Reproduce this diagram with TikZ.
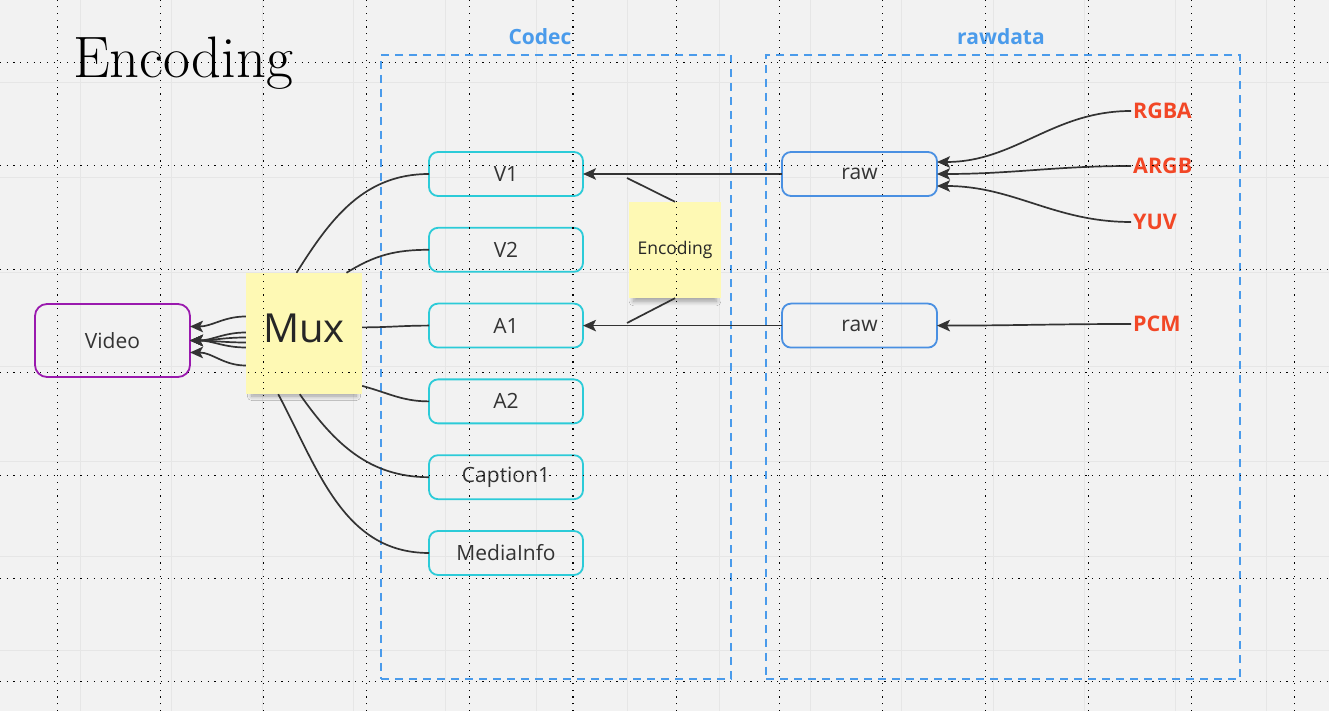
\documentclass[tikz,border=0pt]{standalone}
\usepackage{fontspec}
\newfontfamily\opensans{Open Sans}
\usepackage{tikz}
\usetikzlibrary{arrows.meta,positioning,shadows.blur}

\definecolor{boardgray}{HTML}{F2F2F2}
\definecolor{gridgray}{HTML}{E6E6E6}
\definecolor{frameblue}{HTML}{4A9BEB}
\definecolor{streamcyan}{HTML}{2CCBD8}
\definecolor{rawblue}{HTML}{4A90E2}
\definecolor{videopurple}{HTML}{9A1AAE}
\definecolor{stickyyellow}{HTML}{FEF9B4}
\definecolor{fmtred}{HTML}{F24726}
\definecolor{inkgray}{HTML}{333333}

\begin{document}
\begin{tikzpicture}[
    x=1pt, y=1pt,
    >={Stealth[length=13pt,width=11.5pt,inset=3pt]},
    font=\opensans,
    box/.style={
		rectangle,
		rounded corners=9pt,
		line width=1.8pt,
		outer sep=0pt,
		text=inkgray,
		font=\opensans\fontsize{21}{25}\selectfont
	},
    stream/.style={box, draw=streamcyan, minimum width=154pt, minimum height=44pt},
    rawnode/.style={box, draw=rawblue, minimum width=155pt, minimum height=44pt},
    videobox/.style={box, draw=videopurple, rounded corners=12pt, minimum width=155pt, minimum height=73pt},
    sticky/.style={
		rectangle,
		fill=stickyyellow,
		text=black!85,
		blur shadow={shadow xshift=0pt, shadow yshift=-9pt, shadow scale=0.9,
		             shadow blur steps=10, shadow blur radius=5pt, shadow opacity=35}
	},
    groupbox/.style={draw=frameblue, line width=1.8pt, dash pattern=on 8pt off 6pt, inner sep=0pt},
    grouptitle/.style={text=frameblue, font=\opensans\bfseries\fontsize{21}{25}\selectfont},
    fmt/.style={anchor=west, inner sep=2pt, text=fmtred, font=\opensans\bfseries\fontsize{21.5}{25}\selectfont},
    conn/.style={draw=inkgray, line width=1.7pt},
    faintline/.style={draw=gridgray, line width=1pt},
    dotline/.style={draw=black, line width=1.1pt, dash pattern=on 1.1pt off 5.6pt}
  ]
    % board
    \fill[boardgray] (0,0) rectangle (1329,711);
    \useasboundingbox (0,0) rectangle (1329,711);
    \foreach \k in {0,...,13} \draw[faintline] (80+91.3*\k,0) -- (80+91.3*\k,711);
    \foreach \k in {0,...,6} \draw[faintline] (0,60+94.7*\k) -- (1329,60+94.7*\k);

    \node[anchor=base west, inner sep=0pt, font=\rmfamily\fontsize{58.5}{62}\selectfont] (title) at (73,633) {Encoding};

    % the two groups
    \node[groupbox, minimum width=350pt, minimum height=624pt] (codecframe) at (556,344) {};
    \node[groupbox, minimum width=474pt, minimum height=624pt] (rawframe) at (1003,344) {};
    \node[grouptitle] (codectitle) at (540,674) {Codec};
    \node[grouptitle] (rawtitle) at (1001,674) {rawdata};

    % codec streams
    \node[stream] (v1) at (506,537) {V1};
    \node[stream, below=31.8pt of v1] (v2) {V2};
    \node[stream, below=31.8pt of v2] (a1) {A1};
    \node[stream, below=31.8pt of a1] (a2) {A2};
    \node[stream, below=31.8pt of a2] (cap1) {Caption1};
    \node[stream, below=31.8pt of cap1] (info) {MediaInfo};

    % raw data and formats
    \node[rawnode, right=199pt of v1] (raw1) {raw};
    \node[rawnode, right=199pt of a1] (raw2) {raw};
    \node[fmt] (rgba) at (1131,600) {RGBA};
    \node[fmt] (argb) at (1131,545) {ARGB};
    \node[fmt] (yuv) at (1131,489) {YUV};
    \node[fmt] (pcm) at (1131,387) {PCM};

    % mux, video, encoding note
    \node[videobox] (video) at (112.5,370.5) {Video};
    \node[sticky, minimum width=116pt, minimum height=121pt, text depth=10pt,
          font=\opensans\fontsize{40}{44}\selectfont] (mux) at (304,377.5) {Mux};
    \node[sticky, minimum width=92pt, minimum height=96pt,
          font=\opensans\fontsize{17.5}{21}\selectfont] (enc) at (675,461) {Encoding};
    \coordinate (encv) at (627,533);
    \coordinate (enca) at (627,388);

    % connectors
    \draw[conn,->] (rgba.west) to[out=180,in=0] ([yshift=12pt]raw1.east);
    \draw[conn,->] (argb.west) to[out=180,in=0] (raw1.east);
    \draw[conn,->] (yuv.west) to[out=180,in=0] ([yshift=-12pt]raw1.east);
    \draw[conn,->] (pcm.west) to[out=180,in=0] (raw2.east);
    \draw[conn,->] (raw1) -- (v1);
    \draw[conn,->] (raw2) -- (a1);
    \draw[conn] (encv) -- (enc.north);
    \draw[conn] (enc.south) -- (enca);

    \draw[conn] (mux.97) to[out=58,in=180] (v1.west);
    \draw[conn] (mux.55) to[out=32,in=180] (v2.west);
    \draw[conn] (mux.6) to[out=0,in=180] (a1.west);
    \draw[conn] (mux.318) to[out=-15,in=180] (a2.west);
    \draw[conn] (mux.266) to[out=-55,in=180] (cap1.west);
    \draw[conn] (mux.247) to[out=-62,in=180] (info.west);
    \foreach \s/\e in {17/14, 1/0, -4/0, -9/0, -14/0, -32/-12}
      \draw[conn,->] ([yshift=\s pt]mux.west) to[out=180,in=0] ([yshift=\e pt]video.east);

    % dotted guides over everything
    \foreach \k in {0,...,12} \draw[dotline] (57.5+103.1*\k,0) -- (57.5+103.1*\k,711);
    \foreach \k in {0,...,6} \draw[dotline] (0,29.1+103.2*\k) -- (1329,29.1+103.2*\k);

\end{tikzpicture}
\end{document}
